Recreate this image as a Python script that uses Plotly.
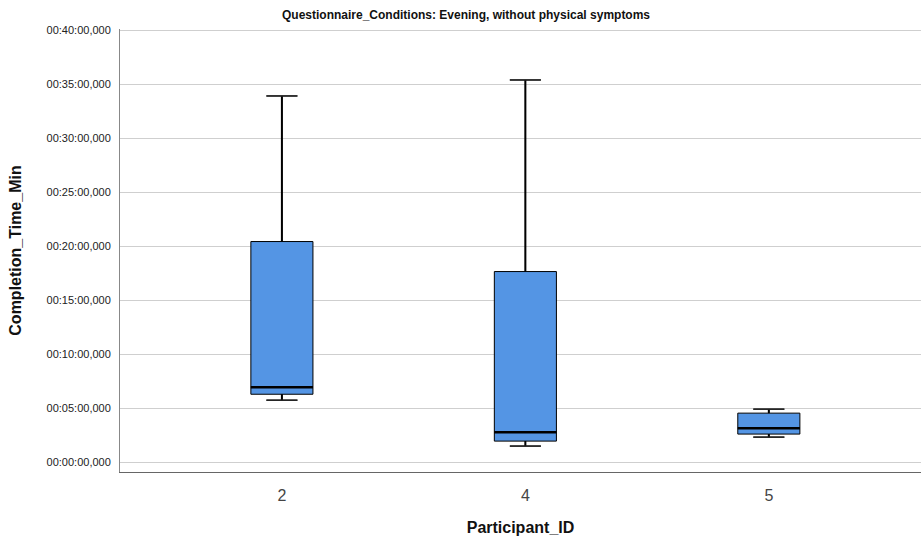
import plotly.graph_objects as go

# Data (minutes)
participants = ["2", "4", "5"]
lower_whisker = [5.73, 1.48, 2.31]
q1 = [6.28, 1.94, 2.59]
median = [6.93, 2.77, 3.14]
q3 = [20.42, 17.64, 4.53]
upper_whisker = [33.9, 35.38, 4.9]

tick_vals = [0, 5, 10, 15, 20, 25, 30, 35, 40]
tick_text = ["00:00:00,000", "00:05:00,000", "00:10:00,000", "00:15:00,000",
             "00:20:00,000", "00:25:00,000", "00:30:00,000", "00:35:00,000",
             "00:40:00,000"]

BOX_W = 0.255

fig = go.Figure()
fig.add_trace(go.Box(
    x=participants,
    q1=q1, median=median, q3=q3,
    lowerfence=lower_whisker, upperfence=upper_whisker,
    fillcolor="rgb(84,149,228)",
    line=dict(color="black", width=1),
    whiskerwidth=0.5,
    width=BOX_W,
    boxpoints=False,
    showlegend=False,
    hoverinfo="skip",
))

# thicker median lines and whiskers
for i in range(len(participants)):
    fig.add_shape(type="line", xref="x", yref="y",
                  x0=i - BOX_W / 2, x1=i + BOX_W / 2, y0=median[i], y1=median[i],
                  line=dict(color="black", width=2.5))
    fig.add_shape(type="line", xref="x", yref="y",
                  x0=i, x1=i, y0=q3[i], y1=upper_whisker[i],
                  line=dict(color="black", width=2))
    fig.add_shape(type="line", xref="x", yref="y",
                  x0=i, x1=i, y0=lower_whisker[i], y1=q1[i],
                  line=dict(color="black", width=2))
    for w in (lower_whisker[i], upper_whisker[i]):
        fig.add_shape(type="line", xref="x", yref="y",
                      x0=i - BOX_W / 4, x1=i + BOX_W / 4, y0=w, y1=w,
                      line=dict(color="#222", width=1.5))

fig.update_layout(
    width=921, height=537,
    margin=dict(l=120, r=0, t=29, b=65),
    paper_bgcolor="white", plot_bgcolor="white",
    font=dict(family="Arial, Liberation Sans, sans-serif", color="#222"),
    title=dict(text="<b>Questionnaire_Conditions: Evening, without physical symptoms</b>",
               x=0.506, xanchor="center", y=0.972, yanchor="middle",
               font=dict(size=12, color="#111")),
    xaxis=dict(
        type="category",
        range=[-0.665, 2.625],
        showgrid=False,
        showline=True, linecolor="#666", linewidth=1,
        ticks="", ticklabelstandoff=9,
        tickfont=dict(size=16, color="#444"),
        title=dict(text="<b>Participant_ID</b>", font=dict(size=16, color="#111"), standoff=18),
    ),
    yaxis=dict(
        range=[-0.92, 40.1],
        tickvals=tick_vals, ticktext=tick_text,
        showgrid=True, gridcolor="#cfcfcf", gridwidth=1,
        zeroline=False,
        showline=True, linecolor="#888", linewidth=1,
        ticks="", ticklabelstandoff=6,
        tickfont=dict(size=11, color="#222"),
        title=dict(text="<b>Completion_Time_Min</b>", font=dict(size=16, color="#111"), standoff=20),
    ),
)

fig.write_html("out.html")
